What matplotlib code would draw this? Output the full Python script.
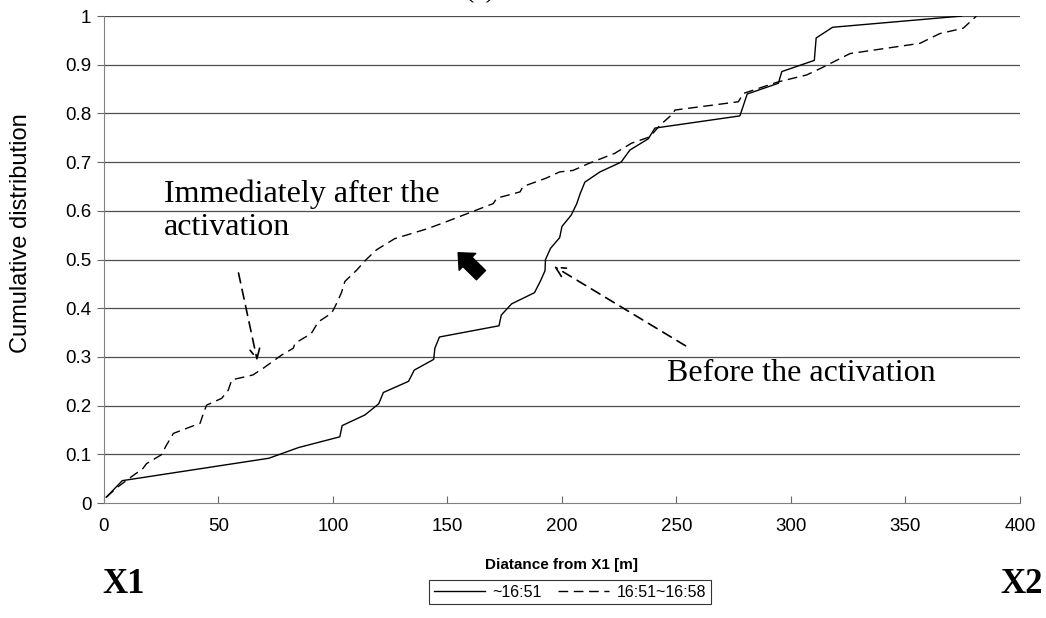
import matplotlib
matplotlib.use('Agg')
import matplotlib.pyplot as plt

# readings of the two cumulative curves
solid_x = [1, 8, 72, 85, 103, 104, 114, 120, 122, 133, 135.5, 144, 144.5, 146.5, 172.5,
           173.5, 178, 188, 190.5, 192.6, 192.8, 195, 199, 200, 204, 206.4, 208, 210,
           216.6, 225.8, 229.7, 237.7, 240.6, 277.7, 280.9, 294.5, 296, 310.2, 311,
           318.2, 374.5]
solid_y = [0.012, 0.046, 0.092, 0.114, 0.136, 0.159, 0.181, 0.204, 0.227, 0.25, 0.273,
           0.295, 0.318, 0.341, 0.364, 0.386, 0.409, 0.432, 0.455, 0.477, 0.5, 0.523,
           0.545, 0.568, 0.591, 0.614, 0.636, 0.659, 0.68, 0.70, 0.725, 0.748, 0.77,
           0.795, 0.84, 0.862, 0.886, 0.909, 0.955, 0.977, 1.0]

dash_x = [1, 6, 12, 17, 18.6, 25, 27.3, 30.3, 42, 43.4, 44.8, 51.4, 54.3, 55.8, 65,
          69.6, 77.6, 82.7, 83.4, 90.5, 93.6, 99.4, 101.6, 103.7, 105.2, 110.3, 114.5,
          119, 127, 141, 148, 159, 170, 171.5, 181.7, 183, 193, 199, 204.8, 212, 223,
          230.4, 238.4, 242.8, 248.6, 249.3, 277, 279.2, 283.6, 294.5, 306.8, 312.7,
          325.8, 356.3, 365, 375.2, 381]
dash_y = [0.012, 0.033, 0.054, 0.071, 0.081, 0.099, 0.119, 0.143, 0.164, 0.184, 0.201,
          0.215, 0.232, 0.253, 0.263, 0.277, 0.304, 0.318, 0.328, 0.348, 0.372, 0.39,
          0.41, 0.432, 0.455, 0.478, 0.5, 0.52, 0.543, 0.563, 0.575, 0.595, 0.615,
          0.626, 0.639, 0.65, 0.667, 0.68, 0.683, 0.698, 0.718, 0.739, 0.752, 0.776,
          0.8, 0.807, 0.824, 0.841, 0.848, 0.865, 0.879, 0.892, 0.923, 0.944, 0.964,
          0.975, 1.0]

labels = ['~16:51', '16:51~16:58']
xticks = [0, 50, 100, 150, 200, 250, 300, 350, 400]
yticks = [0, 0.1, 0.2, 0.3, 0.4, 0.5, 0.6, 0.7, 0.8, 0.9, 1]
ytick_labels = ['0', '0.1', '0.2', '0.3', '0.4', '0.5', '0.6', '0.7', '0.8', '0.9', '1']

plt.rcParams['font.family'] = ['Liberation Sans', 'DejaVu Sans']
serif = 'Liberation Serif'

fig = plt.figure(figsize=(10.46, 6.18), dpi=100)
ax = fig.add_axes([0.0994, 0.186, 0.8757, 0.788])

for y in yticks[1:]:
    ax.axhline(y, color='0.3', lw=0.9, zorder=1)

ax.plot(solid_x, solid_y, color='black', lw=1.0, label=labels[0], zorder=3)
ax.plot(dash_x, dash_y, color='black', lw=1.0, ls=(0, (7, 4)), label=labels[1], zorder=3)

ax.set_xlim(0, 400)
ax.set_ylim(0, 1)
ax.set_xticks(xticks)
ax.set_yticks(yticks)
ax.set_yticklabels(ytick_labels)
ax.tick_params(axis='x', direction='in', length=5, color='0.4', labelsize=13.5, pad=11)
ax.tick_params(axis='y', direction='out', length=5, color='0.4', labelsize=13.5, pad=4)
for s in ['top', 'right']:
    ax.spines[s].set_visible(False)
for s in ['left', 'bottom']:
    ax.spines[s].set_color('0.5')

ax.set_ylabel('Cumulative distribution', fontsize=17)
ax.yaxis.set_label_coords(-0.079, 0.554)
ax.set_xlabel('Diatance from X1 [m]', fontsize=11, fontweight='bold', labelpad=16)

# annotations
ax.text(26, 0.60, 'Immediately after the\nactivation', family=serif, fontsize=23,
        va='center', ha='left', linespacing=1.2)
ax.text(246, 0.267, 'Before the activation', family=serif, fontsize=23,
        va='center', ha='left')
ax.annotate('', xy=(67.2, 0.287), xytext=(58.5, 0.478),
            arrowprops=dict(arrowstyle='->,head_length=0.7,head_width=0.35',
                            ls=(0, (6, 4)), color='black', lw=1.2))
ax.annotate('', xy=(195.5, 0.489), xytext=(255, 0.32),
            arrowprops=dict(arrowstyle='->,head_length=0.7,head_width=0.35',
                            ls=(0, (6, 4)), color='black', lw=1.2))
ax.annotate('', xy=(153.8, 0.518), xytext=(165.5, 0.464),
            arrowprops=dict(arrowstyle='simple,head_length=0.55,head_width=1.0,tail_width=0.55',
                            color='black', mutation_scale=17))

fig.text(0.098, 0.055, 'X1', family=serif, fontsize=25, fontweight='bold', va='center', ha='left')
fig.text(0.956, 0.055, 'X2', family=serif, fontsize=25, fontweight='bold', va='center', ha='left')
fig.text(0.459, 0.995, '(a)', family=serif, fontsize=20, va='bottom', ha='center')

leg = fig.legend(loc='center', bbox_to_anchor=(0.545, 0.042), ncol=2, fontsize=11.5,
                 frameon=True, fancybox=False, edgecolor='black', handlelength=3.2,
                 columnspacing=1.0, handletextpad=0.5, borderpad=0.3)
leg.get_frame().set_linewidth(0.8)

fig.savefig('out.png', dpi=100)
